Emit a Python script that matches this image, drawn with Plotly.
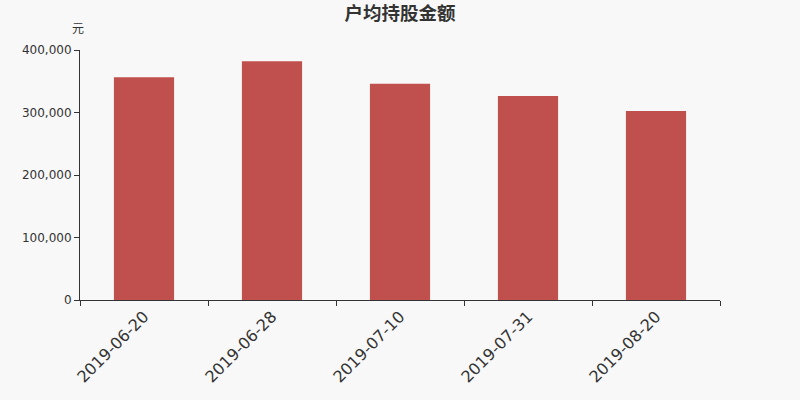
import plotly.graph_objects as go

dates = ["2019-06-20", "2019-06-28", "2019-07-10", "2019-07-31", "2019-08-20"]
avg_value = [356500, 382000, 346000, 326500, 302500]
y_ticks = [0, 100000, 200000, 300000, 400000]
y_labels = ["0", "100,000", "200,000", "300,000", "400,000"]

BAR = "#c0504d"
BG = "#f8f8f8"
AXIS = "#333333"

fig = go.Figure(go.Bar(x=dates, y=avg_value, marker_color=BAR, marker_line_width=0,
                       width=0.47, hoverinfo="x+y", showlegend=False))

fig.update_layout(
    width=800, height=400, paper_bgcolor=BG, plot_bgcolor=BG,
    margin=dict(l=80, r=80, t=50, b=100),
    font=dict(family="DejaVu Sans, Noto Sans CJK SC", color=AXIS),
    title=dict(text="<b>户均持股金额</b>", x=0.5, xanchor="center", y=0.966, yanchor="middle",
               font=dict(size=18.5, color=AXIS, family="Noto Sans CJK SC, DejaVu Sans")),
    annotations=[dict(text="元", xref="paper", yref="paper", x=-0.003, y=1.088, xanchor="center",
                      yanchor="middle", showarrow=False,
                      font=dict(size=12, color=AXIS, family="Noto Sans CJK SC"))],
)
fig.update_xaxes(type="category", tickson="boundaries", ticks="outside", ticklen=5,
                 tickcolor=AXIS, showline=True, linecolor=AXIS, linewidth=1,
                 tickangle=-45, tickfont=dict(size=16, color=AXIS), showgrid=False)
fig.update_yaxes(range=[0, 400000], tickvals=y_ticks, ticktext=y_labels, ticks="outside",
                 ticklen=5, tickcolor=AXIS, showline=True, linecolor=AXIS, linewidth=1,
                 showgrid=False, zeroline=False, tickfont=dict(size=12, color=AXIS))

# drop the page's default body margin so the 800x400 figure fills the window
fig.write_html("out.html", config={"displayModeBar": False},
               post_script="document.body.style.margin='0';")
